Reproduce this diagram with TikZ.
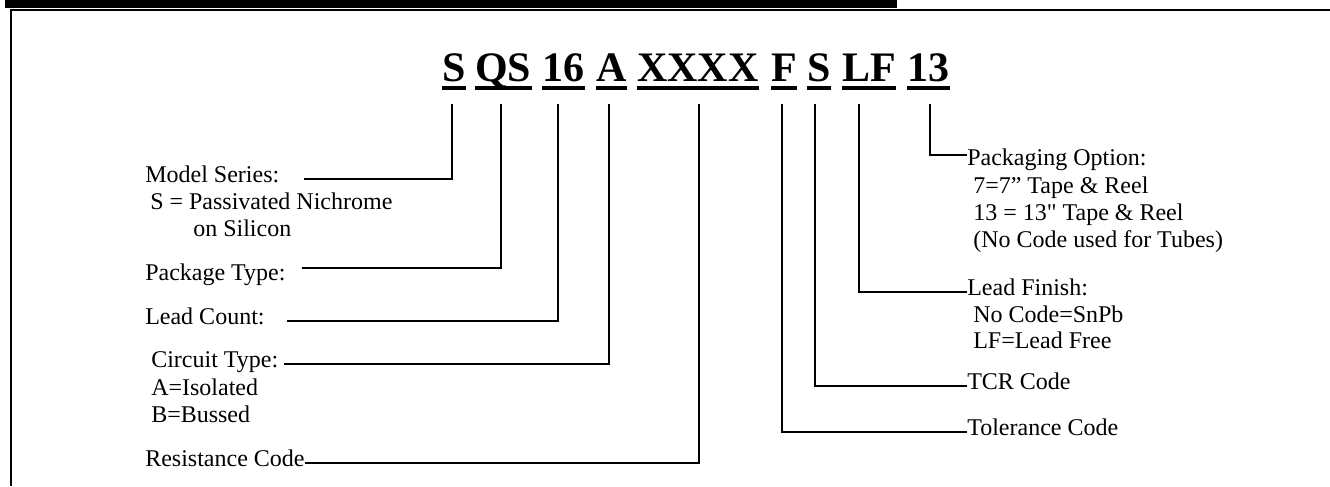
\documentclass[tikz,border=0pt]{standalone}
\usepackage{fontspec}
\setmainfont{Liberation Serif}
\newcommand{\straightquote}{\XeTeXglyph\XeTeXglyphindex "quotedbl"\relax}

\begin{document}
\begin{tikzpicture}[x=0.75pt,y=-0.75pt,
		code/.style={font=\fontsize{31.5}{36}\selectfont\bfseries,inner sep=0pt,anchor=base west},
		lbl/.style={font=\fontsize{18}{20.25}\selectfont,inner sep=0pt,anchor=base west},
		lead/.style={line width=1.2pt},
		ul/.style={line width=3pt}]
		\useasboundingbox (0,0) rectangle (1330,486);
		% frame
		\fill (5,0) rectangle (897,8);
		\draw[line width=1.5pt] (11,486) -- (11,10) -- (1330,10);
		% part number
		\foreach \nm/\x/\txt/\dx in {ser/442/S/452,pkg/475/QS/501,cnt/542/16/558,cir/596/A/609,res/637/XXXX/699,tol/771/F/782,tcr/807/S/815,fin/842/LF/859,opt/907/13/930}{
			\node[code] (\nm) at (\x,81) {\txt};
			\draw[ul] ([yshift=-5pt]\nm.base west) -- ([yshift=-5pt]\nm.base east);
			\coordinate (\nm drop) at (\dx,104);
		}
		% left side
		\node[lbl] (serlbl) at (145,182) {Model Series:};
		\node[lbl] (serdetA) at (150,209) {S = Passivated Nichrome};
		\node[lbl] (serdetB) at (193,236) {on Silicon};
		\node[lbl] (pkglbl) at (145,280) {Package Type:};
		\node[lbl] (cntlbl) at (145,324) {Lead Count:};
		\node[lbl] (cirlbl) at (151,367) {Circuit Type:};
		\node[lbl] (cirdetA) at (151,395) {A=Isolated};
		\node[lbl] (cirdetB) at (151,422) {B=Bussed};
		\node[lbl] (reslbl) at (145,466) {Resistance Code};
		\draw[lead] (serdrop) |- ([xshift=18pt]serlbl.mid east);
		\draw[lead] (pkgdrop) |- ([xshift=12pt,yshift=6.5pt]pkglbl.mid east);
		\draw[lead] (cntdrop) |- ([xshift=16.5pt]cntlbl.mid east);
		\draw[lead] (cirdrop) |- ([xshift=4.5pt]cirlbl.mid east);
		\draw[lead] (resdrop) |- (reslbl.mid east);
		% right side
		\node[lbl] (optlbl) at (967,165) {Packaging Option:};
		\node[lbl] (optdetA) at (973,193) {7=7” Tape \& Reel};
		\node[lbl] (optdetB) at (973,220) {13 = 13\straightquote{} Tape \& Reel};
		\node[lbl] (optdetC) at (973,247) {(No Code used for Tubes)};
		\node[lbl] (finlbl) at (967,295) {Lead Finish:};
		\node[lbl] (findetA) at (973,322) {No Code=SnPb};
		\node[lbl] (findetB) at (973,348) {LF=Lead Free};
		\node[lbl] (tcrlbl) at (967,389) {TCR Code};
		\node[lbl] (tollbl) at (967,435) {Tolerance Code};
		\draw[lead] (optdrop) |- ([yshift=5pt]optlbl.mid west);
		\draw[lead] (findrop) |- (finlbl.mid west);
		\draw[lead] (tcrdrop) |- (tcrlbl.mid west);
		\draw[lead] (toldrop) |- (tollbl.mid west);
	\end{tikzpicture}
\end{document}
